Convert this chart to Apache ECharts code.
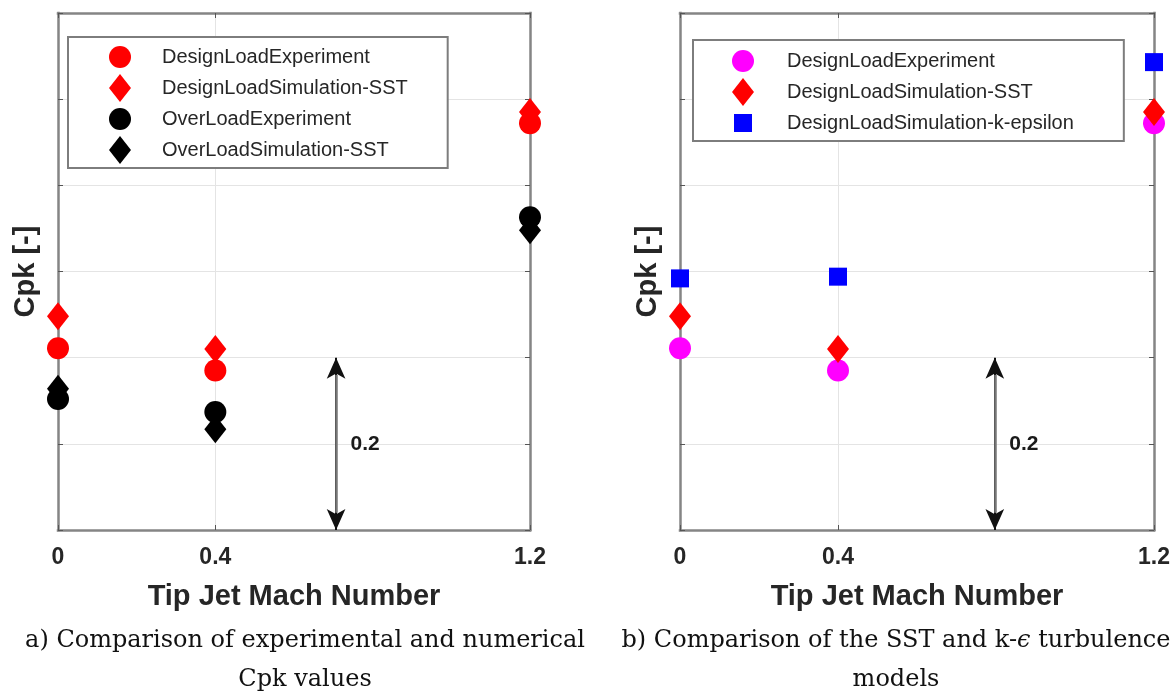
<!DOCTYPE html>
<html>
<head>
<meta charset="utf-8">
<script src="https://cdn.jsdelivr.net/npm/echarts@6/dist/echarts.min.js"></script>
<style>
  html, body { margin: 0; padding: 0; background: #ffffff; }
  #chart { width: 1173px; height: 693px; }
</style>
</head>
<body>
<div id="chart"></div>
<script>
// Tip jet Mach numbers tested, and the x ticks shown
const machNumbers = [0, 0.4, 1.2];
const xTickValues = [0, 0.4, 1.2];

// Pressure coefficient Cpk at the design load
const designLoadExperiment = [0.211, 0.185, 0.472];
const designLoadSimSST = [0.248, 0.210, 0.485];
const designLoadSimKEps = [0.292, 0.294, 0.543];

// Pressure coefficient Cpk at the over load
const overLoadExperiment = [0.152, 0.137, 0.363];
const overLoadSimSST = [0.164, 0.117, 0.348];

// Scale bar drawn in each panel (span of Cpk and its x position)
const scaleBarSpan = 0.2;
const scaleBarX = [0.707, 0.797];

// Legend entry names
const namesLeft = ['DesignLoadExperiment', 'DesignLoadSimulation-SST', 'OverLoadExperiment', 'OverLoadSimulation-SST'];
const namesRight = ['DesignLoadExperiment', 'DesignLoadSimulation-SST', 'DesignLoadSimulation-k-epsilon'];

const SANS = '"Liberation Sans", Arial, Helvetica, sans-serif';
const SERIF = '"DejaVu Serif", serif';
const AXIS_GRAY = '#858585';
const GRID_GRAY = '#e4e4e4';
const TICK_GRAY = '#555555';
const TEXT_DARK = '#262626';

const pts = ys => machNumbers.map((m, i) => [m, ys[i]]);

// Legend icons in a common 22 x 28 box so every marker keeps its own size
const ICON_CIRCLE = 'path://M0,0M22,28M0,14A11,11,0,1,1,22,14A11,11,0,1,1,0,14Z';
const ICON_DIAMOND = 'path://M0,0M22,28M11,0L22,14L11,28L0,14Z';
const ICON_SQUARE = 'path://M0,0M22,28M2,5L20,5L20,23L2,23Z';

// Box edges are the four axis lines
const boxLine = { show: true, onZero: false, lineStyle: { color: AXIS_GRAY, width: 2.5, cap: 'square' } };

function xAxes(gridIndex) {
  return [
    {
      gridIndex, type: 'value', position: 'bottom', min: 0, max: 1.2,
      axisLine: boxLine,
      axisTick: { show: true, inside: true, length: 5, customValues: xTickValues,
                  lineStyle: { color: TICK_GRAY, width: 1 } },
      axisLabel: { show: true, customValues: xTickValues, margin: 16,
                   fontFamily: SANS, fontSize: 23, fontWeight: 'bold', color: TEXT_DARK },
      splitLine: { show: true, lineStyle: { color: GRID_GRAY, width: 1 } },
      name: 'Tip Jet Mach Number', nameLocation: 'middle', nameGap: 52,
      nameTextStyle: { fontFamily: SANS, fontSize: 29, fontWeight: 'bold', color: TEXT_DARK }
    },
    {
      gridIndex, type: 'value', position: 'top', min: 0, max: 1.2,
      axisLine: boxLine,
      axisTick: { show: true, inside: true, length: 5, customValues: xTickValues,
                  lineStyle: { color: TICK_GRAY, width: 1 } },
      axisLabel: { show: false },
      splitLine: { show: false }
    }
  ];
}

function yAxes(gridIndex, gap) {
  return [
    {
      gridIndex, type: 'value', position: 'left', min: 0, max: 0.6, interval: 0.1,
      axisLine: boxLine,
      axisTick: { show: true, inside: true, length: 5, lineStyle: { color: TICK_GRAY, width: 1 } },
      axisLabel: { show: false },
      splitLine: { show: true, lineStyle: { color: GRID_GRAY, width: 1 } },
      name: 'Cpk [-]', nameLocation: 'middle', nameRotate: 90, nameGap: gap,
      nameTextStyle: { fontFamily: SANS, fontSize: 29, fontWeight: 'bold', color: TEXT_DARK }
    },
    {
      gridIndex, type: 'value', position: 'right', min: 0, max: 0.6, interval: 0.1,
      axisLine: boxLine,
      axisTick: { show: true, inside: true, length: 5, lineStyle: { color: TICK_GRAY, width: 1 } },
      axisLabel: { show: false },
      splitLine: { show: false }
    }
  ];
}

// Double-headed scale bar with its value written beside it
function scaleBar(x) {
  return {
    markLine: {
      silent: true, animation: false,
      label: { show: false },
      emphasis: { disabled: true },
      data: [
        [
          { coord: [x, 0], symbol: 'arrow', symbolSize: [14, 21],
            lineStyle: { color: '#111111', width: 2, type: 'solid' } },
          { coord: [x, scaleBarSpan], symbol: 'arrow', symbolSize: [14, 21] }
        ],
        [
          { coord: [x, 0.02], symbol: 'none',
            lineStyle: { color: '#777777', width: 2.5, type: 'solid' } },
          { coord: [x, scaleBarSpan - 0.02], symbol: 'none' }
        ]
      ]
    },
    markPoint: {
      silent: true, animation: false,
      symbol: 'rect', symbolSize: 1,
      itemStyle: { color: 'rgba(0,0,0,0)' },
      label: { show: true, position: 'right', distance: 14, formatter: String(scaleBarSpan),
               fontFamily: SANS, fontSize: 21, fontWeight: 'bold', color: '#1a1a1a' },
      data: [{ coord: [x, scaleBarSpan / 2] }]
    }
  };
}

function scatter(name, data, symbol, size, color, xi, yi, extra) {
  return Object.assign({
    type: 'scatter', name, data, symbol, symbolSize: size,
    xAxisIndex: xi, yAxisIndex: yi,
    itemStyle: { color, opacity: 1 },
    emphasis: { disabled: true },
    clip: false,
    z: 5,
    animation: false
  }, extra || {});
}

const legendBase = {
  orient: 'vertical',
  backgroundColor: '#ffffff',
  borderColor: '#7d7d7d',
  borderWidth: 2,
  itemWidth: 74, itemHeight: 28, itemGap: 3,
  selectedMode: false,
  textStyle: { fontFamily: SANS, fontSize: 20, color: TEXT_DARK, lineHeight: 22 }
};

const option = {
  backgroundColor: '#ffffff',
  animation: false,
  grid: [
    { left: 58, top: 13, width: 472, height: 517, show: false },
    { left: 680, top: 13, width: 474, height: 517, show: false }
  ],
  xAxis: [...xAxes(0), ...xAxes(1)],
  yAxis: [...yAxes(0, 18), ...yAxes(1, 18)],
  legend: [
    Object.assign({}, legendBase, {
      left: 68, top: 37, padding: [6, 40, 4, 41],
      data: [
        { name: namesLeft[0], icon: ICON_CIRCLE },
        { name: namesLeft[1], icon: ICON_DIAMOND },
        { name: namesLeft[2], icon: ICON_CIRCLE, itemStyle: { color: '#000000' } },
        { name: namesLeft[3], icon: ICON_DIAMOND, itemStyle: { color: '#000000' } }
      ]
    }),
    Object.assign({}, legendBase, {
      left: 693, top: 40, padding: [7, 50, 4, 39], itemWidth: 78,
      data: [
        { name: namesRight[0], icon: ICON_CIRCLE, itemStyle: { color: '#ff00ff' } },
        { name: namesRight[1], icon: ICON_DIAMOND, itemStyle: { color: '#ff0000' } },
        { name: namesRight[2], icon: ICON_SQUARE, itemStyle: { color: '#0000ff' } }
      ]
    })
  ],
  series: [
    // Panel a
    scatter(namesLeft[0], pts(designLoadExperiment), 'circle', 22, '#ff0000', 0, 0, scaleBar(scaleBarX[0])),
    scatter(namesLeft[1], pts(designLoadSimSST), 'diamond', [22, 28], '#ff0000', 0, 0),
    scatter(namesLeft[2], pts(overLoadExperiment), 'circle', 22, '#000000', 0, 0),
    scatter(namesLeft[3], pts(overLoadSimSST), 'diamond', [22, 28], '#000000', 0, 0),
    // Panel b
    scatter(namesRight[0], pts(designLoadExperiment), 'circle', 22, '#ff00ff', 2, 2, scaleBar(scaleBarX[1])),
    scatter(namesRight[1], pts(designLoadSimSST), 'diamond', [22, 28], '#ff0000', 2, 2),
    scatter(namesRight[2], pts(designLoadSimKEps), 'rect', 18, '#0000ff', 2, 2)
  ],
  graphic: [
    { type: 'text', x: 305, y: 641, silent: true,
      style: { text: 'a) Comparison of experimental and numerical', align: 'center', verticalAlign: 'middle',
               font: '24px ' + SERIF, fill: '#111111' } },
    { type: 'text', x: 305, y: 680, silent: true,
      style: { text: 'Cpk values', align: 'center', verticalAlign: 'middle',
               font: '24px ' + SERIF, fill: '#111111' } },
    { type: 'text', x: 896, y: 641, silent: true,
      style: { text: 'b) Comparison of the SST and k-{i|ϵ} turbulence', align: 'center', verticalAlign: 'middle',
               font: '24px ' + SERIF, fill: '#111111',
               rich: { i: { fontFamily: SERIF, fontSize: 24, fontStyle: 'italic', fill: '#111111' } } } },
    { type: 'text', x: 896, y: 680, silent: true,
      style: { text: 'models', align: 'center', verticalAlign: 'middle',
               font: '24px ' + SERIF, fill: '#111111' } }
  ]
};

const chart = echarts.init(document.getElementById('chart'), null, { renderer: 'canvas' });
chart.setOption(option);
</script>
</body>
</html>
